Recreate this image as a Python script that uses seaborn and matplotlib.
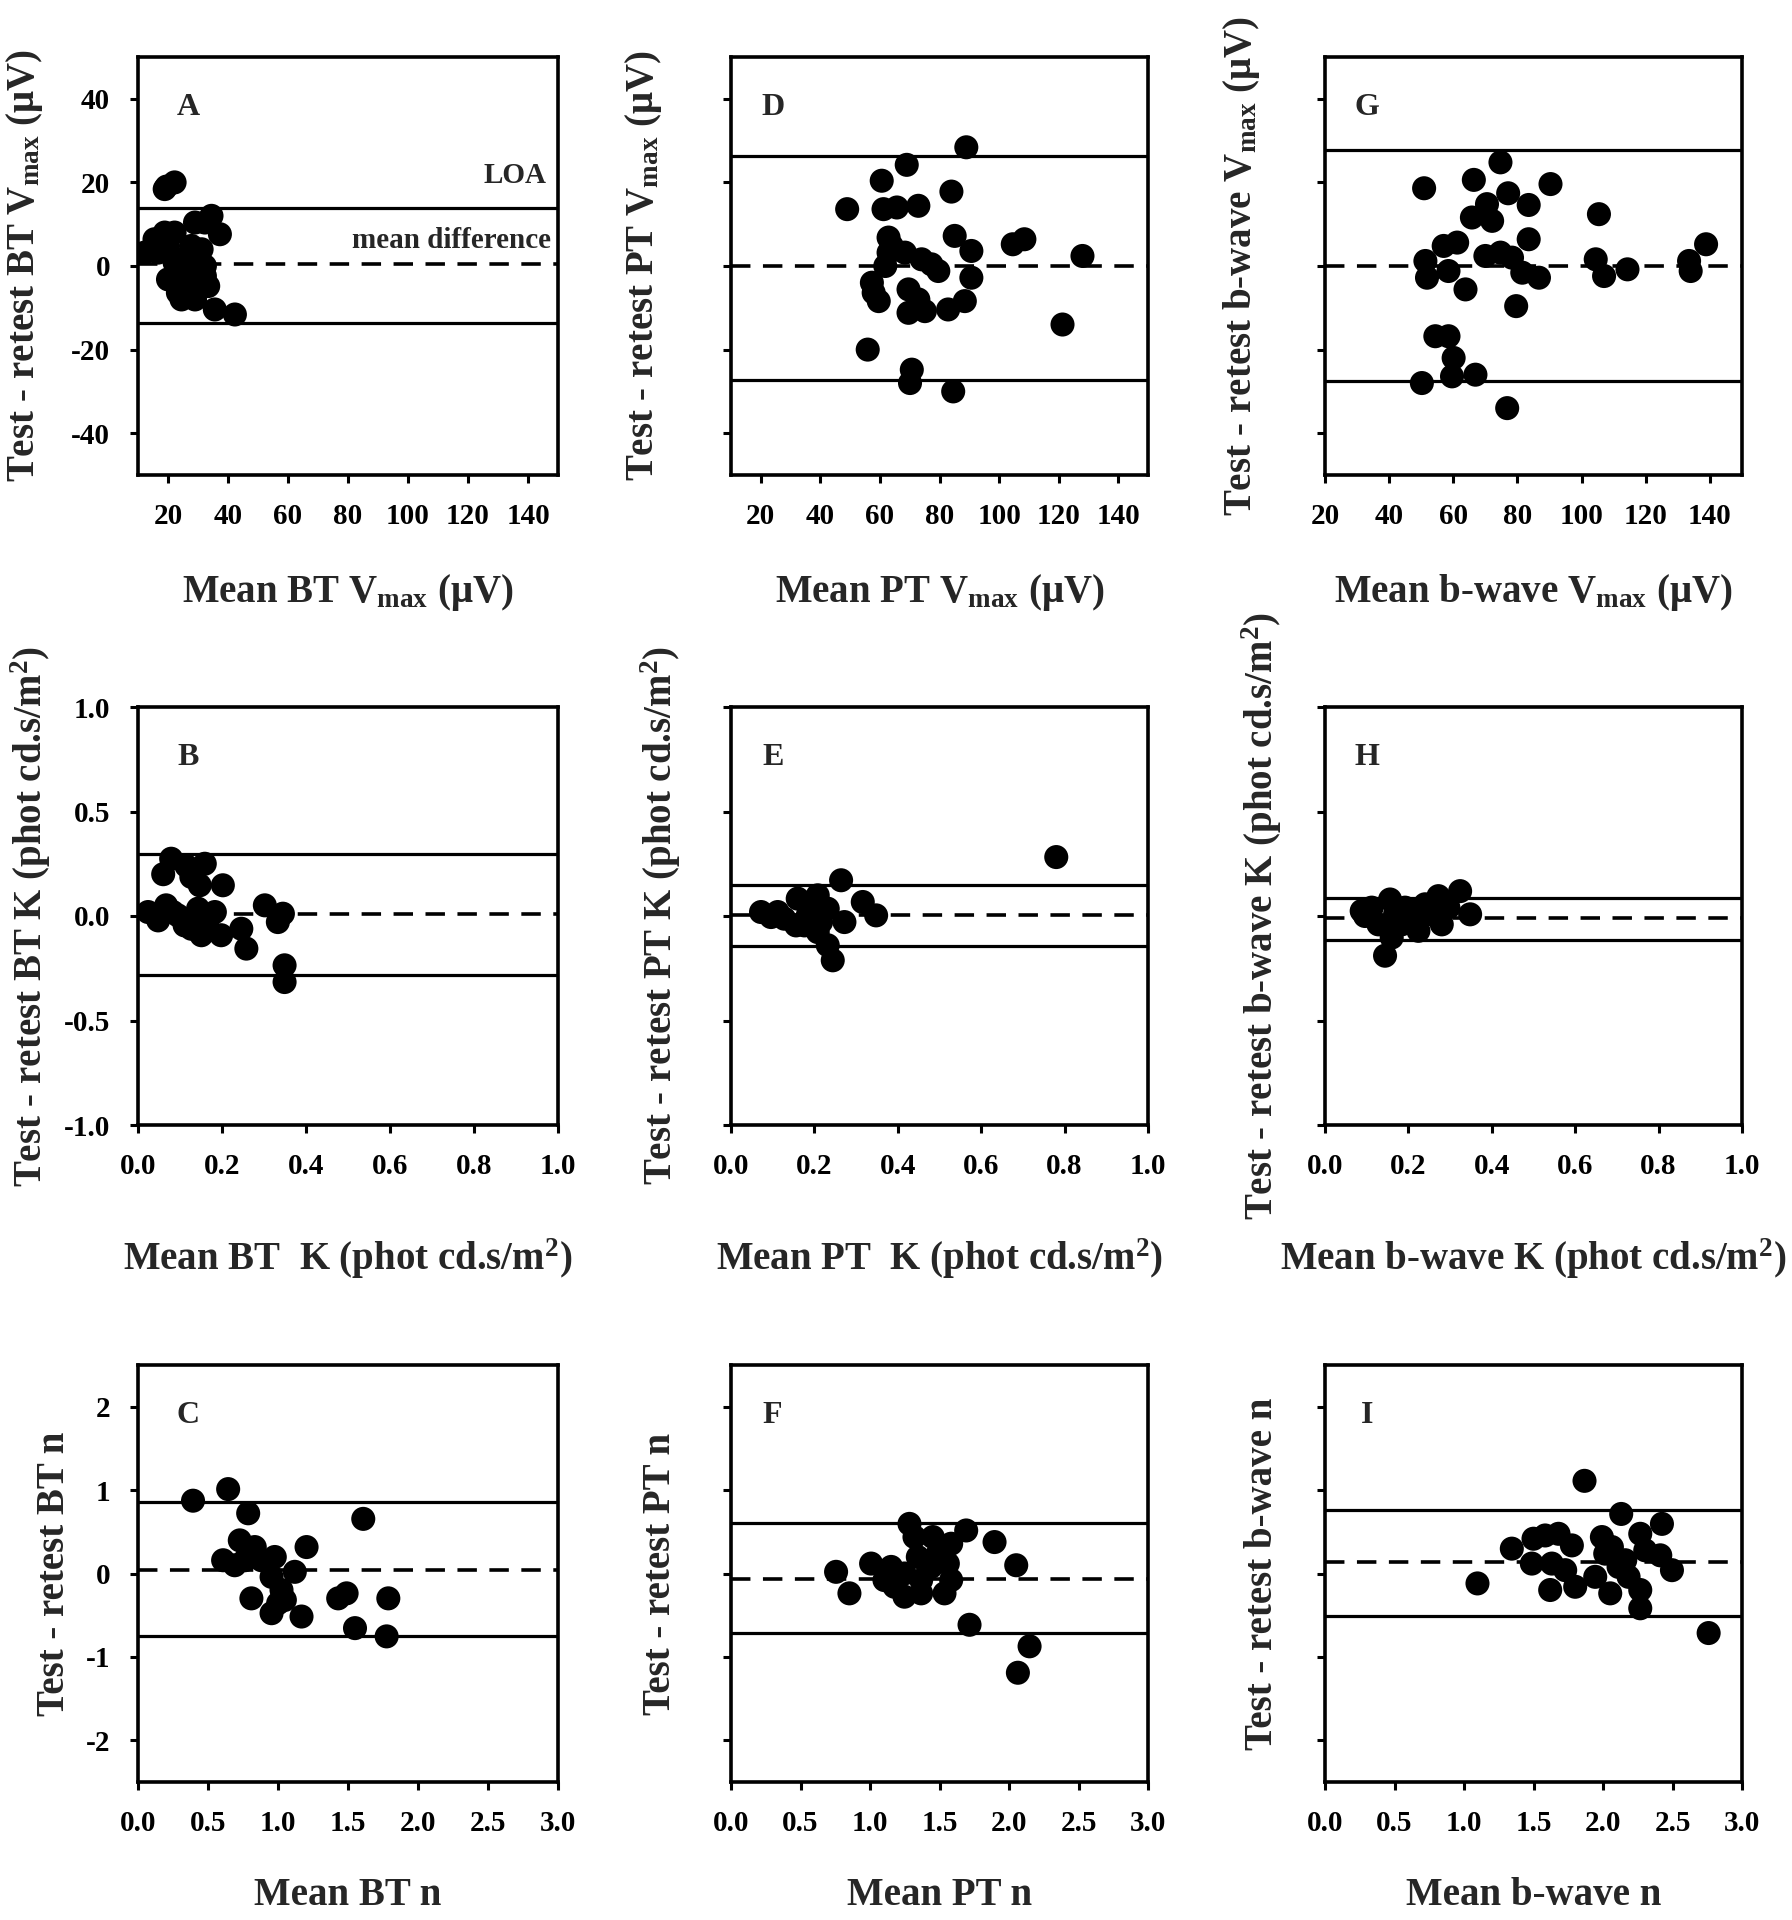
import numpy as np
import pandas as pd
import matplotlib
matplotlib.use("Agg")
import matplotlib.pyplot as plt
import seaborn as sns

# -------------------------------------------------------------------
# data (Bland-Altman style, 9 panels)
# -------------------------------------------------------------------
# A: BT Vmax
a_mean = [18.9, 22.2, 19.5, 34.5, 37.3, 32.3, 29.0, 18.9, 15.5, 12.2, 20.0, 27.8, 23.3,
          30.0, 20.0, 25.6, 32.3, 33.4, 23.3, 27.8, 24.5, 29.0, 35.6, 42.3, 32.3, 25.6,
          22.2, 31.2, 16.7, 22.2]
a_diff = [18.4, 20.0, 19.0, 12.0, 7.6, 10.4, 10.4, 8.0, 6.4, 3.2, 4.8, 4.8, 1.6,
          1.6, -3.2, -3.2, -2.4, -4.8, -6.4, -6.4, -8.0, -8.0, -10.4, -11.6, 0.0, -0.8,
          0.8, 4.0, 3.2, 8.0]
a_lines = [13.8, 0.4, -13.6]

# D: PT Vmax
d_mean = [89.0, 69.0, 60.6, 84.0, 49.0, 61.2, 65.7, 72.9, 62.9, 85.1, 90.7, 104.6, 108.5,
          128.0, 62.9, 68.4, 74.0, 79.6, 61.8, 90.7, 57.3, 57.9, 59.6, 69.6, 72.9, 69.6,
          75.1, 82.9, 88.5, 121.3, 55.9, 70.7, 70.1, 84.6, 77.3, 64.0]
d_diff = [28.4, 24.2, 20.4, 17.8, 13.6, 13.6, 14.0, 14.4, 6.8, 7.2, 3.6, 5.2, 6.4,
          2.4, 3.2, 3.2, 1.6, -1.2, 0.0, -2.8, -4.0, -6.4, -8.4, -5.6, -8.0, -11.2,
          -10.8, -10.4, -8.4, -14.0, -20.0, -24.8, -28.0, -30.0, 0.4, 4.8]
d_lines = [26.4, 0.0, -27.2]

# G: b-wave Vmax
g_mean = [74.7, 50.9, 66.4, 90.3, 77.1, 83.5, 70.5, 65.8, 72.1, 105.4, 83.5, 57.0, 61.2,
          138.8, 70.0, 74.7, 78.3, 51.3, 104.4, 133.5, 51.8, 58.5, 81.5, 86.7, 107.0, 114.3,
          134.0, 63.8, 79.6, 54.4, 58.5, 60.1, 59.6, 66.9, 50.2, 76.8]
g_diff = [24.8, 18.6, 20.6, 19.6, 17.4, 14.6, 14.8, 11.6, 10.8, 12.4, 6.4, 4.8, 5.6,
          5.2, 2.4, 3.2, 2.0, 1.2, 1.6, 1.2, -2.8, -1.2, -1.6, -2.8, -2.4, -0.8,
          -1.2, -5.6, -9.6, -16.8, -16.8, -22.0, -26.4, -26.0, -28.0, -34.0]
g_lines = [27.8, 0.0, -27.6]

# B: BT K
b_mean = [0.079, 0.060, 0.115, 0.159, 0.127, 0.147, 0.202, 0.024, 0.048, 0.067, 0.095, 0.111, 0.143,
          0.183, 0.151, 0.198, 0.246, 0.258, 0.302, 0.333, 0.345, 0.349, 0.349, 0.127, 0.167, 0.083]
b_diff = [0.274, 0.200, 0.240, 0.250, 0.187, 0.147, 0.147, 0.019, -0.021, 0.051, 0.003, -0.045, 0.035,
          0.019, -0.092, -0.092, -0.061, -0.156, 0.051, -0.029, 0.011, -0.236, -0.316, -0.061, -0.013, 0.019]
b_lines = [0.298, 0.008, -0.284]

# E: PT K
e_mean = [0.780, 0.264, 0.316, 0.348, 0.072, 0.096, 0.128, 0.160, 0.156, 0.192, 0.208, 0.232, 0.272,
          0.208, 0.232, 0.244, 0.184, 0.112, 0.176, 0.216]
e_diff = [0.282, 0.171, 0.067, 0.003, 0.019, -0.005, -0.013, 0.083, -0.045, 0.067, 0.099, 0.035, -0.029,
          -0.077, -0.140, -0.212, 0.003, 0.019, -0.045, -0.029]
e_lines = [0.147, 0.006, -0.144]

# H: b-wave K
h_mean = [0.096, 0.112, 0.128, 0.156, 0.168, 0.160, 0.144, 0.192, 0.208, 0.224, 0.240, 0.272, 0.280,
          0.296, 0.324, 0.348, 0.088, 0.184, 0.256]
h_diff = [0.000, 0.040, -0.040, 0.079, 0.008, -0.103, -0.190, 0.040, -0.024, -0.071, 0.056, 0.095, -0.040,
          0.040, 0.119, 0.008, 0.024, -0.040, 0.008]
h_lines = [0.087, -0.011, -0.116]

# C: BT n
c_mean = [0.393, 0.644, 0.787, 1.609, 1.204, 0.727, 0.834, 0.608, 0.691, 0.977, 0.882, 1.120, 0.954,
          1.025, 0.810, 1.001, 0.954, 1.168, 1.430, 1.490, 1.788, 1.550, 1.776, 0.763, 1.049]
c_diff = [0.873, 1.012, 0.722, 0.655, 0.317, 0.397, 0.317, 0.159, 0.099, 0.198, 0.159, 0.020, -0.040,
          -0.198, -0.298, -0.357, -0.476, -0.516, -0.298, -0.238, -0.298, -0.655, -0.754, 0.159, -0.317]
c_lines = [0.853, 0.040, -0.754]

# F: PT n
f_mean = [0.756, 0.852, 1.008, 1.284, 1.320, 1.452, 1.584, 1.692, 1.896, 2.052, 1.716, 2.148, 2.064,
          1.152, 1.104, 1.248, 1.248, 1.368, 1.368, 1.440, 1.560, 1.536, 1.584, 1.344, 1.176, 1.488]
f_diff = [0.020, -0.238, 0.119, 0.595, 0.437, 0.437, 0.357, 0.516, 0.377, 0.099, -0.615, -0.873, -1.190,
          0.079, -0.079, 0.000, -0.278, -0.238, -0.079, 0.079, 0.119, -0.238, -0.079, 0.198, -0.159, 0.238]
f_lines = [0.607, -0.060, -0.714]

# I: b-wave n
i_mean = [1.867, 1.097, 1.344, 1.488, 1.500, 1.584, 1.680, 1.776, 1.632, 1.620, 1.728, 1.800, 1.992,
          2.016, 1.944, 2.052, 2.131, 2.112, 2.184, 2.268, 2.304, 2.424, 2.412, 2.496, 2.268, 2.268,
          2.760, 2.064, 2.160]
i_diff = [1.111, -0.119, 0.298, 0.119, 0.417, 0.456, 0.476, 0.337, 0.119, -0.198, 0.040, -0.159, 0.437,
          0.238, -0.040, -0.238, 0.714, 0.079, -0.040, 0.476, 0.278, 0.595, 0.218, 0.040, -0.198, -0.417,
          -0.714, 0.317, 0.159]
i_lines = [0.766, 0.139, -0.508]

# axis labels
x_labels = [
    ["Mean BT V$_{max}$ (μV)", "Mean PT V$_{max}$ (μV)", "Mean b-wave V$_{max}$ (μV)"],
    ["Mean BT  K (phot cd.s/m$^{2}$)", "Mean PT  K (phot cd.s/m$^{2}$)", "Mean b-wave K (phot cd.s/m$^{2}$)"],
    ["Mean BT n", "Mean PT n", "Mean b-wave n"],
]
y_labels = [
    ["Test - retest BT V$_{max}$ (μV)", "Test - retest PT V$_{max}$ (μV)", "Test - retest b-wave V$_{max}$ (μV)"],
    ["Test - retest BT K (phot cd.s/m$^{2}$)", "Test - retest PT K (phot cd.s/m$^{2}$)",
     "Test - retest b-wave K (phot cd.s/m$^{2}$)"],
    ["Test - retest BT n", "Test - retest PT n", "Test - retest b-wave n"],
]
panel_letters = [["A", "D", "G"], ["B", "E", "H"], ["C", "F", "I"]]

# -------------------------------------------------------------------
# style
# -------------------------------------------------------------------
sns.set_theme(style="ticks")
plt.rcParams["font.family"] = ["Liberation Serif", "DejaVu Serif"]
plt.rcParams["font.weight"] = "bold"
plt.rcParams["mathtext.default"] = "regular"
plt.rcParams["axes.unicode_minus"] = False
plt.rcParams["lines.scale_dashes"] = False

fig = plt.figure(figsize=(17.92, 19.2), dpi=100)

W, H = 1792, 1920
col_px = [(138, 558), (731, 1148), (1325, 1742)]
row_px = [(57, 475), (707, 1125), (1365, 1782)]

row_cfg = [
    dict(ylim=(-50, 50), yticks=[-40, -20, 0, 20, 40], xticks=list(range(20, 141, 20))),
    dict(ylim=(-1.0, 1.0), yticks=[-1.0, -0.5, 0.0, 0.5, 1.0], xlim=(0, 1.0),
         xticks=[0.0, 0.2, 0.4, 0.6, 0.8, 1.0]),
    dict(ylim=(-2.5, 2.5), yticks=[-2, -1, 0, 1, 2], xlim=(0, 3.0),
         xticks=[0.0, 0.5, 1.0, 1.5, 2.0, 2.5, 3.0]),
]
row1_xlim = [(10, 150), (10, 150), (20, 150)]

data = [
    [(a_mean, a_diff, a_lines), (d_mean, d_diff, d_lines), (g_mean, g_diff, g_lines)],
    [(b_mean, b_diff, b_lines), (e_mean, e_diff, e_lines), (h_mean, h_diff, h_lines)],
    [(c_mean, c_diff, c_lines), (f_mean, f_diff, f_lines), (i_mean, i_diff, i_lines)],
]

ylab_x = [[-0.270, -0.211, -0.201], [-0.256, -0.168, -0.151], [-0.198, -0.168, -0.151]]
xlab_y = [-0.282, -0.32, -0.273]
# (x format, y format) per row
fmt_int = lambda v: f"{v:.0f}"
fmt_one = lambda v: f"{v:.1f}"
tick_fmt = [(fmt_int, fmt_int), (fmt_one, fmt_one), (fmt_one, fmt_int)]

for r in range(3):
    for c in range(3):
        x0, x1 = col_px[c]
        y0, y1 = row_px[r]
        ax = fig.add_axes([x0 / W, 1 - y1 / H, (x1 - x0) / W, (y1 - y0) / H])
        xs, ys, lines = data[r][c]
        df = pd.DataFrame({"mean": xs, "diff": ys})

        upper, bias, lower = lines
        ax.axhline(upper, color="black", lw=2.3, zorder=1)
        ax.axhline(lower, color="black", lw=2.3, zorder=1)
        ax.axhline(bias, color="black", lw=2.6, dashes=(14, 9), zorder=1)

        sns.scatterplot(data=df, x="mean", y="diff", ax=ax, color="black",
                        s=300, edgecolor="none", linewidth=0, zorder=3)

        cfg = row_cfg[r]
        ax.set_xlim(row1_xlim[c] if r == 0 else cfg["xlim"])
        ax.set_ylim(cfg["ylim"])
        ax.set_xticks(cfg["xticks"])
        ax.set_yticks(cfg["yticks"])
        fx, fy = tick_fmt[r]
        ax.set_xticklabels([fx(v) for v in cfg["xticks"]])
        ax.set_yticklabels([fy(v) for v in cfg["yticks"]])

        for sp in ax.spines.values():
            sp.set_visible(True)
            sp.set_linewidth(2.6)
            sp.set_color("black")
        ax.tick_params(direction="out", length=6, width=2.2, labelsize=21,
                       top=False, right=False, pad=14, colors="black")
        if c > 0:
            ax.tick_params(axis="y", labelleft=False)
        for lab in ax.get_xticklabels() + ax.get_yticklabels():
            lab.set_fontweight("bold")

        ax.set_xlabel(x_labels[r][c], fontsize=28, fontweight="bold", va="center")
        ax.set_ylabel(y_labels[r][c], fontsize=28, fontweight="bold", va="center")
        ax.xaxis.set_label_coords(0.5, xlab_y[r])
        ax.yaxis.set_label_coords(ylab_x[r][c], 0.5)

        ax.text(0.12 if c == 0 else 0.10, 0.88, panel_letters[r][c], transform=ax.transAxes,
                ha="center", va="center", fontsize=23, fontweight="bold")

        if r == 0 and c == 0:
            ax.text(146, 21.6, "LOA", ha="right", va="center", fontsize=21, fontweight="bold")
            ax.text(147.5, 6.0, "mean difference", ha="right", va="center",
                    fontsize=21, fontweight="bold")

fig.savefig("out.png", dpi=100, facecolor="white")
